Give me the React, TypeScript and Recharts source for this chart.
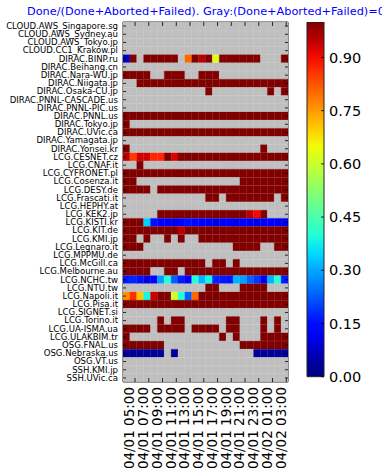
import React from 'react'
import { BarChart, Bar, XAxis, YAxis, Cell, ReferenceArea } from 'recharts'

// sites (rows, top to bottom)
const sites = [
  'CLOUD.AWS_Singapore.sg', 'CLOUD.AWS_Sydney.au', 'CLOUD.AWS_Tokyo.jp', 'CLOUD.CC1_Krakow.pl',
  'DIRAC.BINP.ru', 'DIRAC.Beihang.cn', 'DIRAC.Nara-WU.jp', 'DIRAC.Niigata.jp', 'DIRAC.Osaka-CU.jp',
  'DIRAC.PNNL-CASCADE.us', 'DIRAC.PNNL-PIC.us', 'DIRAC.PNNL.us', 'DIRAC.Tokyo.jp', 'DIRAC.UVic.ca',
  'DIRAC.Yamagata.jp', 'DIRAC.Yonsei.kr', 'LCG.CESNET.cz', 'LCG.CNAF.it', 'LCG.CYFRONET.pl',
  'LCG.Cosenza.it', 'LCG.DESY.de', 'LCG.Frascati.it', 'LCG.HEPHY.at', 'LCG.KEK2.jp', 'LCG.KISTI.kr',
  'LCG.KIT.de', 'LCG.KMI.jp', 'LCG.Legnaro.it', 'LCG.MPPMU.de', 'LCG.McGill.ca', 'LCG.Melbourne.au',
  'LCG.NCHC.tw', 'LCG.NTU.tw', 'LCG.Napoli.it', 'LCG.Pisa.it', 'LCG.SIGNET.si', 'LCG.Torino.it',
  'LCG.UA-ISMA.ua', 'LCG.ULAKBIM.tr', 'OSG.FNAL.us', 'OSG.Nebraska.us', 'OSG.VT.us', 'SSH.KMI.jp',
  'SSH.UVic.ca',
]

// hourly bins (columns)
const hourBins = [
  '04:00', '05:00', '06:00', '07:00', '08:00', '09:00', '10:00', '11:00', '12:00', '13:00', '14:00', '15:00',
  '16:00', '17:00', '18:00', '19:00', '20:00', '21:00', '22:00', '23:00', '00:00', '01:00', '02:00', '03:00',
]

const hourTicks = [1.75, 3.75, 5.75, 7.75, 9.75, 11.75, 13.75, 15.75, 17.75, 19.75, 21.75, 23.75]
const hourLabels = [
  '04/01 05:00', '04/01 07:00', '04/01 09:00', '04/01 11:00', '04/01 13:00', '04/01 15:00',
  '04/01 17:00', '04/01 19:00', '04/01 21:00', '04/01 23:00', '04/02 01:00', '04/02 03:00',
]

const colorbarTicks = [0, 0.15, 0.3, 0.45, 0.6, 0.75, 0.9]
const colorRange = [-0.015, 1]

// Done/(Done+Aborted+Failed), null = no jobs (gray)
const n = null
const ratios: (number | null)[][] = [
  [n, n, n, n, n, n, n, n, n, n, n, n, n, n, n, n, n, n, n, n, n, n, n, n],
  [n, n, n, n, n, n, n, n, n, n, n, n, n, n, n, n, n, n, n, n, n, n, n, n],
  [n, n, n, n, n, n, n, n, n, n, n, n, n, n, n, n, n, n, n, n, n, n, n, n],
  [n, n, n, n, n, n, n, n, n, n, n, n, n, n, n, n, n, n, n, n, n, n, n, n],
  [0.06, 1, n, 1, 1, 1, 1, 1, n, 0.8, 1, 0.95, 1, 0.62, 1, 1, 1, 1, 1, 1, n, n, n, 1],
  [n, n, n, n, n, n, n, n, n, n, n, n, n, n, n, n, n, n, n, n, n, n, n, n],
  [1, 1, 1, 1, n, n, 1, 1, 1, n, n, 1, 1, 1, n, n, n, n, n, n, n, n, n, n],
  [n, n, 1, 1, 1, 1, 1, 1, 1, 1, 1, 1, 1, 1, 1, 1, 1, 1, 1, 1, 1, 1, 1, 1],
  [n, n, n, n, n, n, n, n, n, n, n, n, 1, n, n, n, n, n, n, n, n, 1, n, 1],
  [n, n, n, n, n, n, n, n, n, n, n, n, n, n, n, n, n, n, n, n, n, n, n, n],
  [n, n, n, n, n, n, n, n, n, n, n, n, n, n, n, n, n, n, n, n, n, n, n, n],
  [1, 1, 1, 1, 1, 1, 1, 1, 1, 1, 1, 1, 1, 1, 1, 1, 1, 1, 1, 1, 1, 1, 1, 1],
  [1, n, n, n, n, n, n, n, n, n, n, n, n, n, n, n, n, n, n, n, n, n, n, n],
  [1, 1, 1, 1, 1, 1, 1, 1, 1, 1, 1, 1, 1, 1, 1, 1, 1, 1, 1, 1, 1, 1, 1, 1],
  [n, n, n, n, n, n, n, n, n, n, n, n, n, n, n, n, n, n, n, n, n, n, n, n],
  [1, n, n, n, n, n, n, n, n, n, n, n, n, n, n, n, n, n, n, n, 1, n, n, n],
  [0.95, 0.85, 0.93, 0.93, 0.87, 0.87, 1, 0.92, 1, 1, 1, 1, 1, 1, 1, 1, 1, 1, 1, 1, 1, 1, 1, 1],
  [n, n, 1, n, n, n, n, n, n, n, n, n, n, n, n, n, n, n, n, n, n, n, n, n],
  [1, 1, 1, 1, 1, 1, 1, 1, 1, 1, 1, 1, 1, 1, 1, 1, 1, 1, 1, 1, 1, 1, 1, 1],
  [1, 1, n, n, n, n, n, n, n, n, n, n, n, n, n, n, n, 1, 1, 1, 1, 1, 1, 1],
  [1, 1, 1, 1, n, 1, 1, 1, 1, 1, 1, 1, 1, 1, 1, 1, 1, 1, 1, 1, 1, 1, 1, 1],
  [n, n, n, n, n, n, n, n, n, n, n, n, 1, 1, n, 1, 1, 1, 1, 1, 1, 1, n, 1],
  [n, n, n, n, n, n, n, n, n, n, n, n, n, n, n, n, n, n, n, n, n, n, n, n],
  [n, n, n, n, n, 1, 1, 1, 1, 1, 1, 1, 1, 1, 1, 1, 1, 1, 0.95, 0.9, 1, n, n, n],
  [1, 1, 1, 0.33, 0.14, 0.11, 0.1, 0.09, 0.13, 0.14, 0.13, 0.12, 0.1, 0.08, 0.1, 0.12, 0.09, 0.12, 0.1, 0.08, 0.1, 0.11, 0.09, 0.1],
  [1, 1, 1, 1, 1, 1, 1, 1, 0.95, 1, 1, 1, 1, 1, 1, 1, 1, 1, 1, 1, 1, 1, 1, 1],
  [1, 1, n, 1, n, n, 1, n, 1, n, n, 1, 1, 1, 1, 1, 1, 1, 1, 1, 1, 1, 1, 1],
  [1, 1, 1, n, n, n, n, n, n, n, n, n, n, n, n, n, 1, 1, 1, 1, n, n, 1, 1],
  [n, n, n, n, n, n, n, n, n, n, n, n, n, n, n, n, n, n, n, n, n, n, n, n],
  [1, 1, 1, 1, 1, 1, 1, 1, 1, 1, 1, 1, n, 1, 1, n, 1, n, n, n, n, n, n, n],
  [1, 1, 1, 1, n, n, 1, 1, n, 1, 1, 1, 1, 1, 1, 1, 1, 1, 1, 1, 1, 1, 1, 1],
  [0.15, 0.16, 0.14, 0.08, 0.12, 0.28, 0.4, 0.22, 0.15, 0.12, 0.4, 0.3, 0.37, 0.16, 0.15, 0.14, 0.3, 0.28, 0.22, 0.18, 0.1, 0.3, 0.4, 0.15],
  [n, n, n, n, n, n, n, n, n, n, n, n, 1, 1, n, n, n, 1, 1, 1, 1, n, n, n],
  [0.76, 0.86, 0.7, 0.37, 0.93, 1, 1, 0.6, 0.4, 0.22, 0.8, 1, 1, 1, 1, 1, 1, 1, 1, 1, 1, 1, 1, 1],
  [1, 1, 1, 1, 1, 1, 1, 1, 1, 1, 1, 1, 1, 1, 1, 1, 1, 1, 1, 1, 1, 1, 1, 1],
  [n, n, n, n, n, n, n, n, n, n, n, n, n, n, n, n, n, n, n, n, n, n, n, n],
  [n, n, n, n, n, 1, n, 1, 1, n, n, n, n, n, n, 1, 1, n, n, n, 1, n, 1, n],
  [1, 1, 1, 1, n, 1, 1, 1, 1, n, 1, 1, 1, 1, n, 1, 1, n, n, n, 1, n, 1, n],
  [1, n, n, n, n, n, n, n, n, n, n, n, n, n, 1, n, 1, n, n, n, 1, 1, 1, 1],
  [1, 1, 1, 1, 1, 1, n, n, n, n, n, n, n, n, n, n, n, 1, 1, 1, 1, 1, 1, 1],
  [0.02, 0.02, 0.02, 0.02, 0.02, 0.02, n, 0.02, n, n, n, n, n, n, n, n, n, n, n, 0.02, 0.02, 0.02, 0.02, 0.02],
  [n, n, n, n, n, n, n, n, n, n, n, n, n, n, n, n, n, n, n, n, n, n, n, n],
  [n, n, n, n, n, n, n, n, n, n, n, n, n, n, n, n, n, n, n, n, n, n, n, n],
  [n, n, n, n, n, n, n, n, n, n, n, n, n, n, n, n, n, n, n, n, n, n, n, n],
]

const FONT = '"DejaVu Sans", sans-serif'
const GRAY = '#bfbfbf'
const PLOT_W = 165
const PLOT_H = 360

// matplotlib "jet"
const jetR = [[0, 0], [0.35, 0], [0.66, 1], [0.89, 1], [1, 0.5]]
const jetG = [[0, 0], [0.125, 0], [0.375, 1], [0.64, 1], [0.91, 0], [1, 0]]
const jetB = [[0, 0.5], [0.11, 1], [0.34, 1], [0.65, 0], [1, 0]]

function seg(pts: number[][], v: number) {
  for (let i = 1; i < pts.length; i++) {
    if (v <= pts[i][0]) {
      const [x0, y0] = pts[i - 1]
      const [x1, y1] = pts[i]
      return y0 + ((v - x0) / (x1 - x0)) * (y1 - y0)
    }
  }
  return pts[pts.length - 1][1]
}

function jet(v: number) {
  const t = Math.max(0, Math.min(1, v))
  const c = (p: number[][]) => Math.round(seg(p, t) * 255)
  return `rgb(${c(jetR)},${c(jetG)},${c(jetB)})`
}

const colorOf = (v: number | null) => (v == null ? GRAY : jet(v))

const rows = sites.map((site) => {
  const row: Record<string, string | number> = { site }
  hourBins.forEach((_, j) => {
    row['h' + j] = 1 // one hour wide
  })
  return row
})

const gradStops = Array.from({ length: 21 }, (_, i) => i / 20)

function SiteTick(props: any) {
  const { x, y, payload } = props
  const edge = x + 5
  return (
    <g>
      <text
        transform={`translate(${x},${y}) scale(1.07,1)`}
        x={0}
        y={0}
        dy="0.35em"
        textAnchor="end"
        fontSize={8}
        fill="#000"
        fontFamily={FONT}
      >
        {payload.value}
      </text>
      <line x1={edge} x2={edge + 3} y1={y} y2={y} stroke="#000" strokeWidth={0.8} />
      <line x1={edge + PLOT_W} x2={edge + PLOT_W - 3} y1={y} y2={y} stroke="#000" strokeWidth={0.8} />
    </g>
  )
}

function HourTick(props: any) {
  const { x, y, index } = props
  return (
    <g>
      <line x1={x} x2={x} y1={y} y2={y - 4} stroke="#000" strokeWidth={0.8} />
      <line x1={x} x2={x} y1={y - PLOT_H} y2={y - PLOT_H + 4} stroke="#000" strokeWidth={0.8} />
      <g transform={`translate(${x - 5.5},${y + 5}) rotate(-90)`}>
        <text x={0} y={0} dy="0.36em" textAnchor="end" fontSize={13.5} fill="#000" fontFamily={FONT}>
          {hourLabels[index]}
        </text>
      </g>
    </g>
  )
}

function BarTick(props: any) {
  const { x, y, payload } = props
  return (
    <g>
      <line x1={x - 5} x2={x - 8} y1={y} y2={y} stroke="#000" strokeWidth={0.8} />
      <text x={x} y={y} dy="0.36em" textAnchor="start" fontSize={14.5} fill="#000" fontFamily={FONT}>
        {payload.value.toFixed(2)}
      </text>
    </g>
  )
}

export default function App() {
  return (
    <div style={{ position: 'absolute', left: 0, top: 0, width: 382, height: 468, overflow: 'hidden', background: '#fff' }}>
      <div
        style={{
          position: 'absolute', left: 27, top: 5, fontSize: 11.3, color: '#0000ff', fontFamily: FONT,
          whiteSpace: 'nowrap', lineHeight: '14px',
        }}
      >
        Done/(Done+Aborted+Failed). Gray:(Done+Aborted+Failed)=0
      </div>
      <div style={{ position: 'absolute', left: 0, top: 0 }}>
        <BarChart
          layout="vertical"
          width={382}
          height={468}
          data={rows}
          margin={{ top: 22, right: 94, bottom: 0, left: 0 }}
          barCategoryGap={0}
          barGap={0}
        >
          <XAxis
            type="number"
            domain={[0, hourBins.length]}
            ticks={hourTicks}
            interval={0}
            height={86}
            tickSize={0}
            tickMargin={0}
            axisLine={false}
            tickLine={false}
            allowDataOverflow
            tick={(p: any) => <HourTick {...p} />}
          />
          <YAxis
            type="category"
            dataKey="site"
            width={123}
            interval={0}
            tickSize={0}
            tickMargin={5}
            axisLine={false}
            tickLine={false}
            tick={(p: any) => <SiteTick {...p} />}
          />
          {hourBins.map((h, j) => (
            <Bar key={h} dataKey={'h' + j} stackId="grid" isAnimationActive={false}>
              {sites.map((s, i) => (
                <Cell key={s} fill={colorOf(ratios[i][j])} stroke={colorOf(ratios[i][j])} strokeWidth={0.3} />
              ))}
            </Bar>
          ))}
          <ReferenceArea x1={0} x2={hourBins.length} fill="none" stroke="#222" strokeWidth={1} ifOverflow="visible" />
        </BarChart>
      </div>
      <div style={{ position: 'absolute', left: 0, top: 0 }}>
        <BarChart
          width={382}
          height={468}
          data={[{ name: 'range', v: colorRange[1] }]}
          margin={{ top: 22, right: 8, bottom: 86, left: 307 }}
          barCategoryGap={0}
        >
          <defs>
            <linearGradient id="jetGrad" x1="0" y1="1" x2="0" y2="0">
              {gradStops.map((t) => (
                <stop key={t} offset={t} stopColor={jet(colorRange[0] + t * (colorRange[1] - colorRange[0]))} />
              ))}
            </linearGradient>
          </defs>
          <XAxis dataKey="name" hide />
          <YAxis
            orientation="right"
            domain={colorRange}
            ticks={colorbarTicks}
            interval={0}
            width={50}
            tickSize={0}
            tickMargin={5}
            axisLine={false}
            tickLine={false}
            allowDataOverflow
            tick={(p: any) => <BarTick {...p} />}
          />
          <Bar dataKey="v" fill="url(#jetGrad)" stroke="#222" strokeWidth={1} isAnimationActive={false} />
        </BarChart>
      </div>
    </div>
  )
}
